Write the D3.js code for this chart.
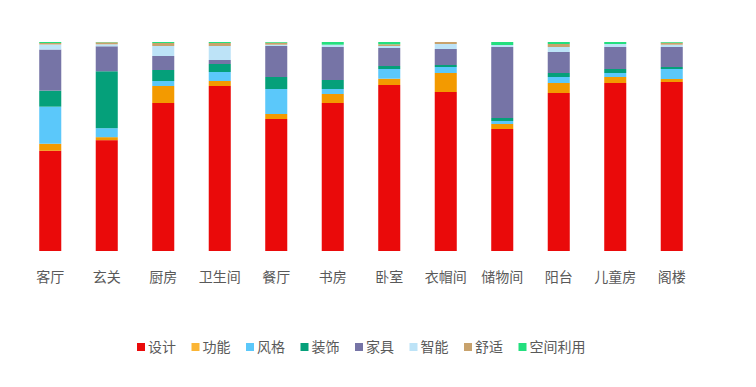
<!DOCTYPE html>
<html>
<head>
    <meta charset="utf-8" />
    <title>空间偏好堆积图</title>
    <style>
        body { margin: 0; background: #ffffff; }
        text { font-family: "Noto Sans CJK SC", "Noto Sans", sans-serif; fill: #595959; }
        .axis-label { font-size: 14px; }
        .legend text { font-size: 14px; }
    </style>
    <script src="https://cdn.jsdelivr.net/npm/d3@7/dist/d3.min.js"></script>
</head>
<body>
    <svg width="756" height="387"></svg>

    <script>
        // 类别与系列
        var categories = ['客厅', '玄关', '厨房', '卫生间', '餐厅', '书房', '卧室', '衣帽间', '储物间', '阳台', '儿童房', '阁楼'];
        var seriesNames = ['设计', '功能', '风格', '装饰', '家具', '智能', '舒适', '空间利用'];

        // 每个系列在各类别中的数值
        var design   = [100, 111, 148, 165, 132, 148, 166, 159, 122, 158, 168, 169];
        var func     = [7, 3, 17, 5, 5, 9, 6.3, 19, 5, 10, 6, 3];
        var style    = [37, 9, 5, 9, 25, 5, 9.7, 6, 3, 6, 4, 10];
        var decor    = [16, 57, 11, 8, 12, 9, 3, 2, 3, 4, 4, 2];
        var furni    = [41, 25, 14, 4, 31, 33, 18, 16, 71, 21, 22, 20];
        var smart    = [5, 2, 10, 14, 1.3, 2.3, 2, 5, 2, 5, 3, 2.3];
        var comfort  = [1.5, 2, 3, 3, 2, 0, 1.7, 2, 0, 3, 0, 2];
        var spaceUse = [1, 0.3, 1, 1, 0.7, 2.7, 2.3, 0, 3, 2, 2, 0.7];

        var colors = ['#EA0A0A', '#F39A00', '#5BC8FA', '#05A07A', '#7674A6', '#BDE3F7', '#C8A26C', '#23DF7E'];
        var legendColors = ['#EA0A0A', '#FBB535', '#5BC8FA', '#05A07A', '#7674A6', '#BDE3F7', '#C8A26C', '#23DF7E'];

        var seriesValues = [design, func, style, decor, furni, smart, comfort, spaceUse];

        var rows = categories.map(function(c, i) {
            var row = { cat: c };
            seriesNames.forEach(function(s, j) { row[s] = seriesValues[j][i]; });
            return row;
        });

        var stacked = d3.stack()
            .keys(seriesNames)
            .offset(d3.stackOffsetExpand)(rows);

        var svg = d3.select('svg'),
            margin = { top: 42, right: 56, bottom: 136, left: 22 },
            width = +svg.attr('width') - margin.left - margin.right,
            height = +svg.attr('height') - margin.top - margin.bottom;

        var x = d3.scaleBand()
            .domain(categories)
            .range([margin.left, margin.left + width])
            .paddingInner(0.61)
            .paddingOuter(0.305);

        var y = d3.scaleLinear()
            .domain([0, 1])
            .range([margin.top + height, margin.top]);

        var color = d3.scaleOrdinal().domain(seriesNames).range(colors);

        svg.append('g')
            .selectAll('g')
            .data(stacked)
            .enter().append('g')
                .attr('fill', function(d) { return color(d.key); })
            .selectAll('rect')
            .data(function(d) { return d; })
            .enter().append('rect')
                .attr('x', function(d) { return x(d.data.cat); })
                .attr('y', function(d) { return y(d[1]); })
                .attr('width', x.bandwidth())
                .attr('height', function(d) { return Math.max(0, y(d[0]) - y(d[1])); });

        var xAxis = svg.append('g')
            .attr('transform', 'translate(0,' + (margin.top + height) + ')')
            .call(d3.axisBottom(x).tickSize(0).tickPadding(21));
        xAxis.select('.domain').remove();
        xAxis.selectAll('text')
            .attr('class', 'axis-label')
            .attr('font-size', null)
            .attr('font-family', null);

        // 图例
        var legend = svg.append('g').attr('class', 'legend');
        var item = legend.selectAll('g')
            .data(seriesNames)
            .enter().append('g');

        item.append('rect')
            .attr('width', 8)
            .attr('height', 8)
            .attr('y', -4)
            .attr('fill', function(d, i) { return legendColors[i]; });

        item.append('text')
            .attr('x', 11)
            .attr('dy', '0.35em')
            .text(function(d) { return d; });

        var gap = 15.5, pos = 0;
        item.each(function() {
            var w = this.getBBox().width;
            d3.select(this).attr('transform', 'translate(' + pos + ',0)');
            pos += w + gap;
        });
        legend.attr('transform', 'translate(137,347)');
    </script>
</body>
</html>
